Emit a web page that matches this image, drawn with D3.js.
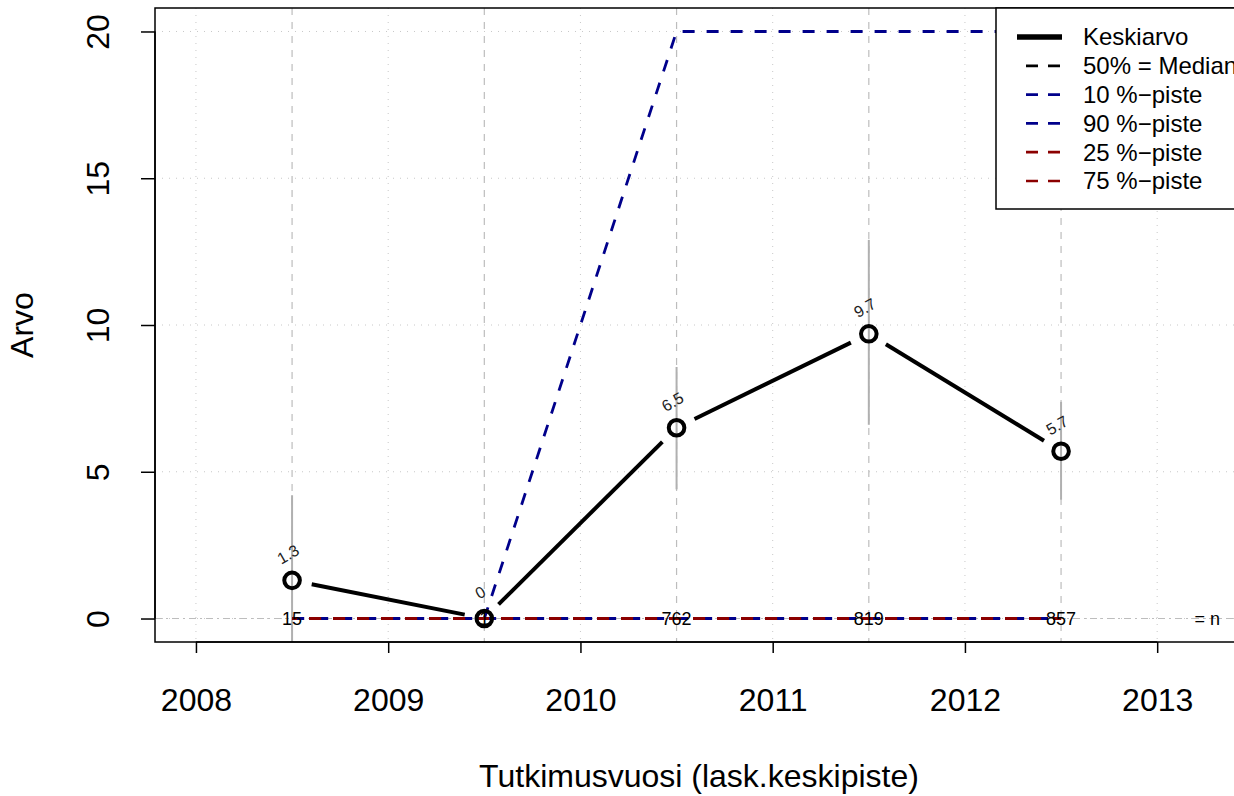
<!DOCTYPE html>
<html><head><meta charset="utf-8">
<script src="https://cdn.jsdelivr.net/npm/d3@7"></script>
<style>body{margin:0;background:#fff;} svg{display:block;font-family:"Liberation Sans",Arial,sans-serif;}</style>
</head><body>
<script>
const years = [2008.5, 2009.5, 2010.5, 2011.5, 2012.5];
const meanVals = [1.3, 0, 6.5, 9.7, 5.7];
const meanLabels = ["1.3", "0", "6.5", "9.7", "5.7"];
const lowerVals = [-1.6, 0, 4.4, 6.6, 4.05];
const upperVals = [4.2, 0, 8.57, 12.9, 7.38];
const nLabels = ["15", "1", "762", "819", "857"];
const p10 = [0, 0, 0, 0, 0];
const p90 = [0, 0, 20, 20, 20];
const p25 = [0, 0, 0, 0, 0];
const p75 = [0, 0, 0, 0, 0];
const median = [0, 0, 0, 0, 0];
const xTicks = [2008, 2009, 2010, 2011, 2012, 2013];
const yTicks = [0, 5, 10, 15, 20];
const legendLabels = ["Keskiarvo", "50% = Median", "10 %\u2212piste", "90 %\u2212piste", "25 %\u2212piste", "75 %\u2212piste"];

(function () {
const W = 1234, H = 796;
const blue = "#00008B", red = "#8B0000";
const svg = d3.select("body").append("svg").attr("width", W).attr("height", H);

const pL = 155, pR = 1261, pT = 8, pB = 642;
const x = d3.scaleLinear().domain([2007.787, 2013.54]).range([pL, pR]);
const y = d3.scaleLinear().domain([-0.8, 20.8]).range([pB, pT]);

svg.append("clipPath").attr("id", "pc").append("rect")
  .attr("x", pL).attr("y", pT).attr("width", pR - pL).attr("height", pB - pT);
const g = svg.append("g").attr("clip-path", "url(#pc)");

// dotted grid
xTicks.forEach(t => g.append("line").attr("x1", x(t)).attr("x2", x(t)).attr("y1", pT).attr("y2", pB)
  .attr("stroke", "#c8c8c8").attr("stroke-width", 1).attr("stroke-dasharray", "1,6"));
yTicks.forEach(t => g.append("line").attr("x1", pL).attr("x2", pR).attr("y1", y(t)).attr("y2", y(t))
  .attr("stroke", "#c8c8c8").attr("stroke-width", 1).attr("stroke-dasharray", "1,6"));
// dashed verticals at data years
years.forEach(t => g.append("line").attr("x1", x(t)).attr("x2", x(t)).attr("y1", pT).attr("y2", pB)
  .attr("stroke", "#bdbdbd").attr("stroke-width", 1.2).attr("stroke-dasharray", "7,7"));
// dash-dot at zero
g.append("line").attr("x1", pL).attr("x2", pR).attr("y1", y(0)).attr("y2", y(0))
  .attr("stroke", "#bdbdbd").attr("stroke-width", 1.2).attr("stroke-dasharray", "7,4,2,4");

// error bars
years.forEach((t, i) => g.append("line").attr("x1", x(t)).attr("x2", x(t))
  .attr("y1", y(lowerVals[i])).attr("y2", y(upperVals[i])).attr("stroke", "#b0b0b0").attr("stroke-width", 2));

// percentile lines
const line = vals => d3.line().x((d, i) => x(years[i])).y(d => y(d))(vals);
const pl = (vals, col, off) => g.append("path").attr("d", line(vals)).attr("fill", "none")
  .attr("stroke", col).attr("stroke-width", 2.8).attr("stroke-dasharray", "12,12").attr("stroke-dashoffset", off);
pl(median, "#000", 0);
pl(p10, blue, 0);
pl(p90, blue, 0);
pl(p25, red, 7);
pl(p75, red, 7);

// n labels
years.forEach((t, i) => g.append("text").attr("x", x(t)).attr("y", y(0)).attr("dy", "0.36em")
  .attr("text-anchor", "middle").attr("font-size", 18).attr("fill", "#000").text(nLabels[i]));
g.append("text").attr("x", x(2013.26)).attr("y", y(0)).attr("dy", "0.36em").attr("text-anchor", "middle")
  .attr("font-size", 18).text("= n");

// mean line with gaps
const gap = 20;
for (let i = 0; i < years.length - 1; i++) {
  const x1 = x(years[i]), y1 = y(meanVals[i]), x2 = x(years[i + 1]), y2 = y(meanVals[i + 1]);
  const L = Math.hypot(x2 - x1, y2 - y1), ux = (x2 - x1) / L, uy = (y2 - y1) / L;
  g.append("line").attr("x1", x1 + ux * gap).attr("y1", y1 + uy * gap).attr("x2", x2 - ux * gap).attr("y2", y2 - uy * gap)
    .attr("stroke", "#000").attr("stroke-width", 4);
}
years.forEach((t, i) => g.append("circle").attr("cx", x(t)).attr("cy", y(meanVals[i])).attr("r", 7.8)
  .attr("fill", "none").attr("stroke", "#000").attr("stroke-width", 4));
years.forEach((t, i) => g.append("text").attr("transform", `translate(${x(t) - 4},${y(meanVals[i]) - 26}) rotate(-30)`)
  .attr("text-anchor", "middle").attr("dy", "0.35em").attr("font-size", 16).attr("fill", "#222").text(meanLabels[i]));

// box
svg.append("rect").attr("x", pL).attr("y", pT).attr("width", pR - pL).attr("height", pB - pT)
  .attr("fill", "none").attr("stroke", "#000").attr("stroke-width", 1.5);

// axes
const xa = svg.append("g").attr("transform", `translate(0,${pB})`)
  .call(d3.axisBottom(x).tickValues(xTicks).tickFormat(d3.format("d")).tickSize(11));
xa.select(".domain").attr("d", `M${x(2008)},0H${x(2013)}`).attr("stroke-width", 1.5);
xa.selectAll("line").attr("stroke-width", 1.5);
xa.selectAll("text").attr("font-size", 32).attr("font-family", "Liberation Sans, Arial, sans-serif").attr("fill", "#000").attr("dy", "0.35em").attr("y", 58);

const ya = svg.append("g").attr("transform", `translate(${pL},0)`)
  .call(d3.axisLeft(y).tickValues(yTicks).tickSize(14));
ya.select(".domain").attr("d", `M0,${y(0)}V${y(20)}`).attr("stroke-width", 1.5);
ya.selectAll("line").attr("stroke-width", 1.5);
ya.selectAll("text").attr("font-size", 32).attr("font-family", "Liberation Sans, Arial, sans-serif").attr("fill", "#000")
  .attr("x", null).attr("text-anchor", "middle")
  .attr("transform", "translate(-57,0) rotate(-90)").attr("dy", "0.35em");

svg.append("text").attr("x", 699).attr("y", 776).attr("dy", "0.35em").attr("text-anchor", "middle")
  .attr("font-size", 32).text("Tutkimusvuosi (lask.keskipiste)");
svg.append("text").attr("transform", `translate(22,${(pT + pB) / 2}) rotate(-90)`).attr("dy", "0.35em")
  .attr("text-anchor", "middle").attr("font-size", 32).text("Arvo");

// legend
const lg = svg.append("g");
lg.append("rect").attr("x", 996).attr("y", 8).attr("width", 280).attr("height", 201)
  .attr("fill", "#fff").attr("stroke", "#000").attr("stroke-width", 1.5);
const legCols = ["#000", "#000", blue, blue, red, red];
legendLabels.forEach((lab, i) => {
  const yy = 37 + i * 28.8;
  const ln = lg.append("line").attr("x1", 1017).attr("x2", 1062).attr("y1", yy).attr("y2", yy).attr("stroke", legCols[i]);
  if (i === 0) ln.attr("stroke-width", 5.5);
  else ln.attr("stroke-width", 2.7).attr("stroke-dasharray", "12,10").attr("stroke-dashoffset", -9);
  lg.append("text").attr("x", 1083).attr("y", yy).attr("dy", "0.35em").attr("font-size", 24).text(lab);
});
})();
</script>
</body></html>
